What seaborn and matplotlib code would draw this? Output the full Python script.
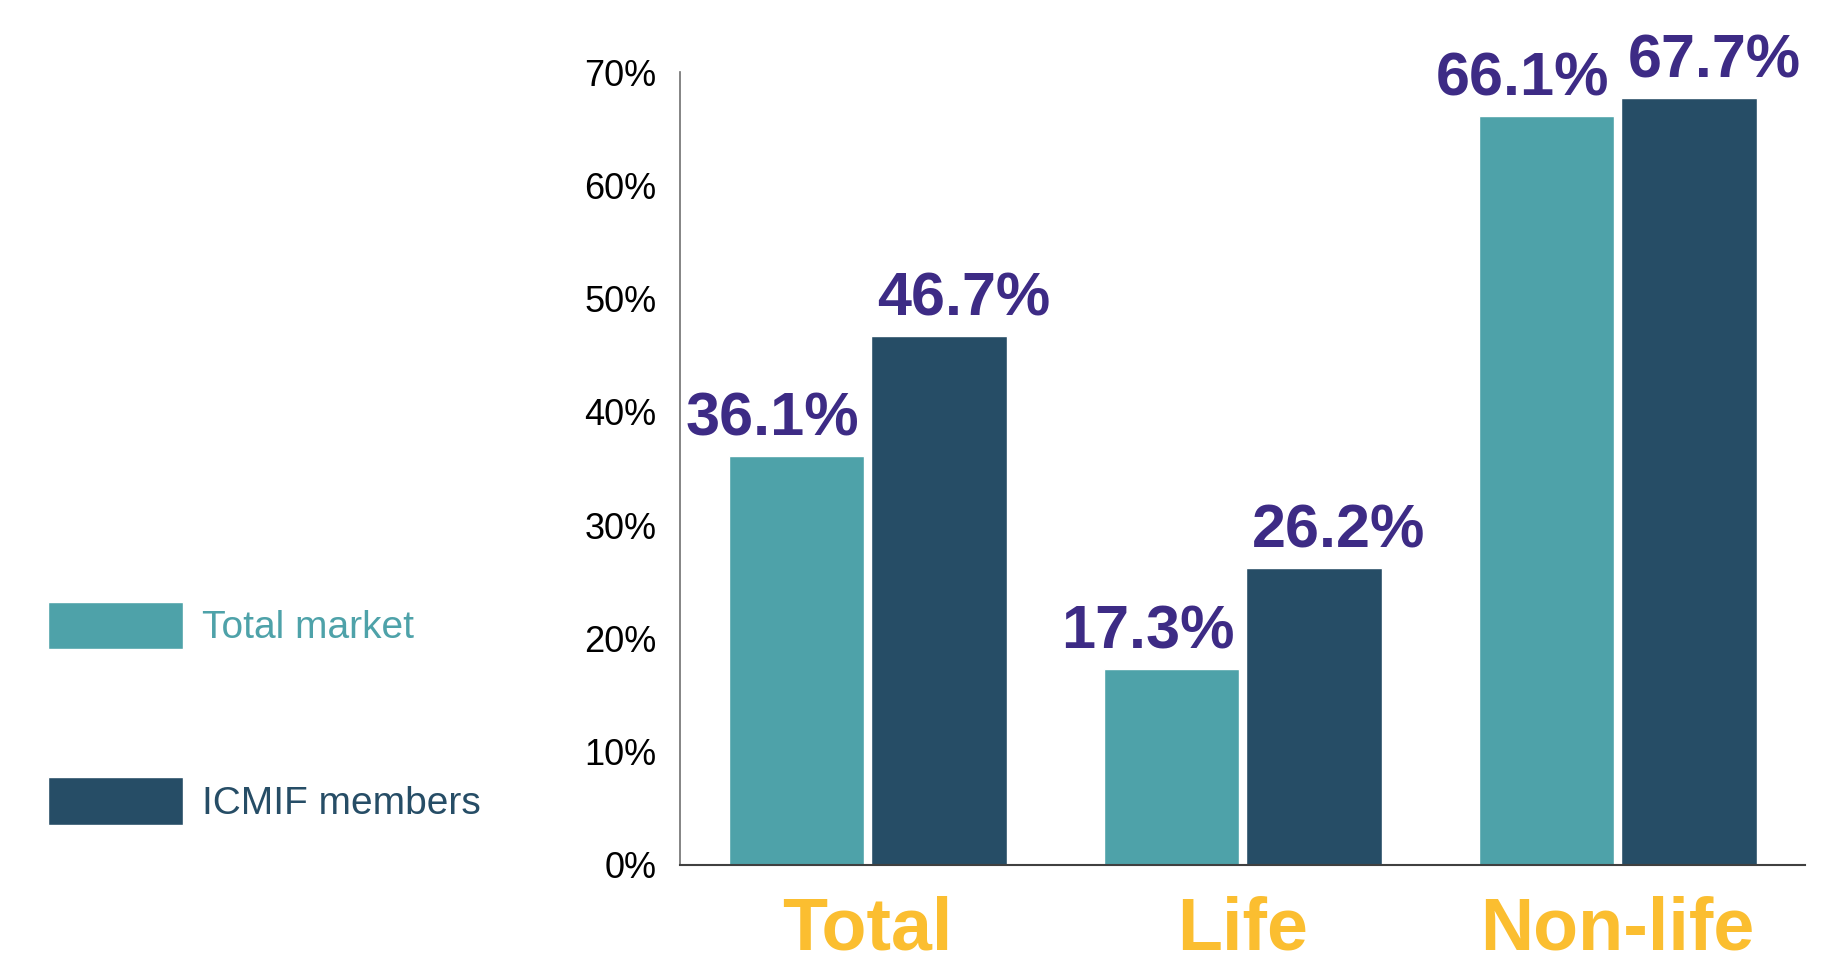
import matplotlib
matplotlib.use('Agg')
import matplotlib.pyplot as plt
import seaborn as sns
import pandas as pd

categories = ['Total', 'Life', 'Non-life']
series = ['Total market', 'ICMIF members']
total_market = [36.1, 17.3, 66.1]
icmif_members = [46.7, 26.2, 67.7]
y_ticks = [0, 10, 20, 30, 40, 50, 60, 70]

colors = ['#4EA2A9', '#264D66']
label_color = '#3D2B85'
cat_color = '#FBBE30'

narrow = ['Liberation Sans Narrow', 'Liberation Sans', 'DejaVu Sans']

df = pd.DataFrame({
    'Category': categories * 2,
    'Series': [series[0]] * 3 + [series[1]] * 3,
    'Share': total_market + icmif_members,
})

sns.set_style('white')
plt.rcParams['font.family'] = narrow

fig = plt.figure(figsize=(18.43, 9.71), dpi=100)
ax = fig.add_axes([0.369, 0.1092, 0.6105, 0.8166])

sns.barplot(
    data=df, x='Category', y='Share', hue='Series',
    order=categories, hue_order=series,
    palette=colors,
    width=0.76, gap=0.05,
    saturation=1,
    ax=ax,
)

# value labels, pushed slightly apart
offsets = [-17, 18]
for i, cont in enumerate(ax.containers):
    for bar, val in zip(cont, [total_market, icmif_members][i]):
        ax.annotate(f'{val:.1f}%',
                    (bar.get_x() + bar.get_width() / 2, bar.get_height()),
                    xytext=(offsets[i], 15), textcoords='offset points',
                    ha='center', va='baseline',
                    fontsize=44, fontweight='bold', color=label_color)

ax.set_xlim(-0.5, 2.5)
ax.set_ylim(0, 70)
ax.set_yticks(y_ticks)
ax.set_yticklabels([f'{t}%' for t in y_ticks], fontsize=26, color='black')
ax.set_xticks(range(len(categories)))
ax.set_xticklabels(categories, fontsize=53, fontweight='bold', color=cat_color)
ax.tick_params(axis='y', length=0, pad=17)
ax.tick_params(axis='x', length=0, pad=22)
ax.set_xlabel('')
ax.set_ylabel('')

for side in ['top', 'right']:
    ax.spines[side].set_visible(False)
ax.spines['left'].set_color('#707070')
ax.spines['left'].set_linewidth(1.2)
ax.spines['bottom'].set_color('#404040')
ax.spines['bottom'].set_linewidth(1.5)

# legend on the left
handles, labels = ax.get_legend_handles_labels()
ax.get_legend().remove()
leg = fig.legend(handles, labels, loc='upper left',
                 bbox_to_anchor=(0.026, 0.3805),
                 frameon=False, fontsize=28, borderpad=0, borderaxespad=0,
                 handlelength=3.47, handleheight=1.52,
                 handletextpad=0.49, labelspacing=3.28)
for txt, c in zip(leg.get_texts(), colors):
    txt.set_color(c)

fig.savefig('out.png', dpi=100)
